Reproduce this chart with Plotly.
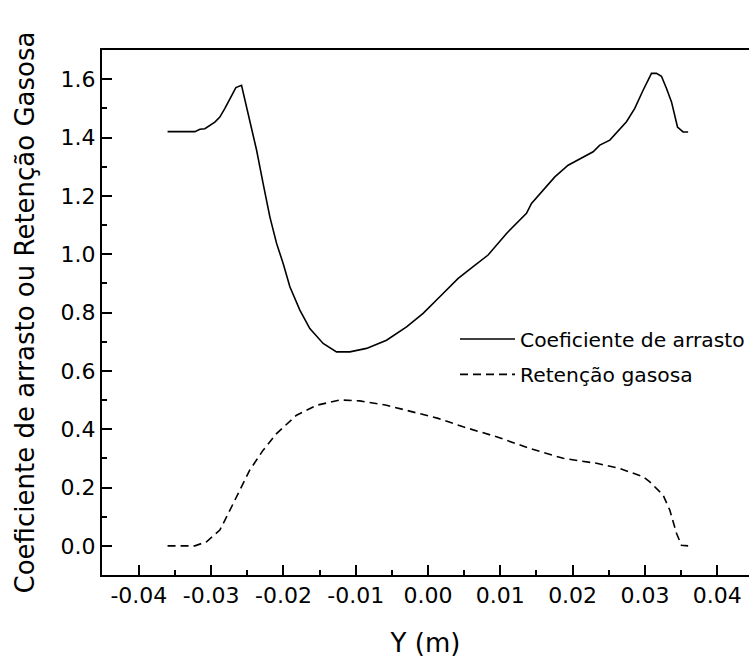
import plotly.graph_objects as go

# Coeficiente de arrasto (solid)
cd_x = [-0.03603, -0.03225, -0.03156, -0.03087, -0.02949, -0.02880, -0.02810, -0.02696,
        -0.02658, -0.02580, -0.02427, -0.02372, -0.02281, -0.02188, -0.02095, -0.02004,
        -0.01911, -0.01773, -0.01635, -0.01451, -0.01266, -0.01082, -0.00851, -0.00574,
        -0.00297, -0.00068, 0.00163, 0.00417, 0.00624, 0.00831, 0.01086, 0.01362,
        0.01431, 0.01754, 0.01938, 0.02284, 0.02376, 0.02515, 0.02745, 0.02860,
        0.02975, 0.03091, 0.03160, 0.03229, 0.03299, 0.03368, 0.03451, 0.03528, 0.03598]
cd_y = [1.420, 1.420, 1.428, 1.430, 1.453, 1.470, 1.500, 1.556,
        1.571, 1.579, 1.414, 1.357, 1.242, 1.128, 1.037, 0.968,
        0.888, 0.808, 0.745, 0.694, 0.665, 0.665, 0.677, 0.705,
        0.751, 0.797, 0.854, 0.917, 0.957, 0.997, 1.071, 1.140,
        1.174, 1.265, 1.305, 1.351, 1.374, 1.391, 1.454, 1.500,
        1.562, 1.620, 1.620, 1.610, 1.568, 1.522, 1.436, 1.419, 1.419]

# Retenção gasosa (dashed)
eg_x = [-0.03603, -0.03225, -0.03064, -0.02880, -0.02787, -0.02649, -0.02465, -0.02281,
        -0.02095, -0.01819, -0.01542, -0.01220, -0.00943, -0.00574, -0.00206, 0.00140,
        0.00486, 0.00947, 0.01408, 0.01869, 0.02331, 0.02653, 0.02975, 0.03068,
        0.03252, 0.03345, 0.03437, 0.03506, 0.03598]
eg_y = [0.000, 0.000, 0.014, 0.054, 0.099, 0.168, 0.260, 0.328,
        0.385, 0.448, 0.482, 0.500, 0.497, 0.482, 0.459, 0.437,
        0.408, 0.374, 0.334, 0.300, 0.283, 0.265, 0.237, 0.219,
        0.174, 0.122, 0.043, 0.002, 0.000]

x_tickvals = [-0.04, -0.03, -0.02, -0.01, 0.0, 0.01, 0.02, 0.03, 0.04]
x_ticktext = ["-0.04", "-0.03", "-0.02", "-0.01", "0.00", "0.01", "0.02", "0.03", "0.04"]
y_tickvals = [0.0, 0.2, 0.4, 0.6, 0.8, 1.0, 1.2, 1.4, 1.6]
y_ticktext = ["0.0", "0.2", "0.4", "0.6", "0.8", "1.0", "1.2", "1.4", "1.6"]

FONT = "DejaVu Sans, Arial, sans-serif"

fig = go.Figure()
fig.add_trace(go.Scatter(x=cd_x, y=cd_y, mode="lines", name="Coeficiente de arrasto",
                         legendgroup="a",
                         line=dict(color="black", width=1.6)))
fig.add_trace(go.Scatter(x=eg_x, y=eg_y, mode="lines", name="Retenção gasosa",
                         legendgroup="b",
                         line=dict(color="black", width=1.6, dash="8px,5px")))

fig.update_layout(
    width=749, height=662,
    margin=dict(l=102, r=0, t=50, b=87, autoexpand=False),
    paper_bgcolor="white", plot_bgcolor="white",
    font=dict(family=FONT, color="black", size=22),
    showlegend=True,
    legend=dict(x=0.5456, y=0.487, xanchor="left", yanchor="top",
                bgcolor="rgba(0,0,0,0)", font=dict(size=20.3, family=FONT),
                tracegroupgap=6, itemwidth=55),
    xaxis=dict(range=[-0.0451, 0.0444], showgrid=False, zeroline=False,
               showline=True, linecolor="black", linewidth=2, mirror=True,
               ticks="inside", ticklen=10, tickwidth=2, tickcolor="black",
               tickvals=x_tickvals, ticktext=x_ticktext,
               tickfont=dict(size=22, family=FONT),
               minor=dict(ticks="inside", ticklen=5, tickwidth=1.5, dtick=0.005,
                          tick0=0, tickcolor="black", showgrid=False),
               title=dict(text="Y (m)", font=dict(size=26, family=FONT), standoff=26)),
    yaxis=dict(range=[-0.1, 1.7], showgrid=False, zeroline=False,
               showline=True, linecolor="black", linewidth=2, mirror=False,
               ticks="inside", ticklen=10, tickwidth=2, tickcolor="black",
               tickvals=y_tickvals, ticktext=y_ticktext,
               tickfont=dict(size=22, family=FONT),
               minor=dict(ticks="inside", ticklen=5, tickwidth=1.5, dtick=0.1,
                          tick0=0, tickcolor="black", showgrid=False),
               title=dict(text="Coeficiente de arrasto ou Retenção Gasosa",
                          font=dict(size=26, family=FONT), standoff=18)),
)

fig.write_html("out.html")
